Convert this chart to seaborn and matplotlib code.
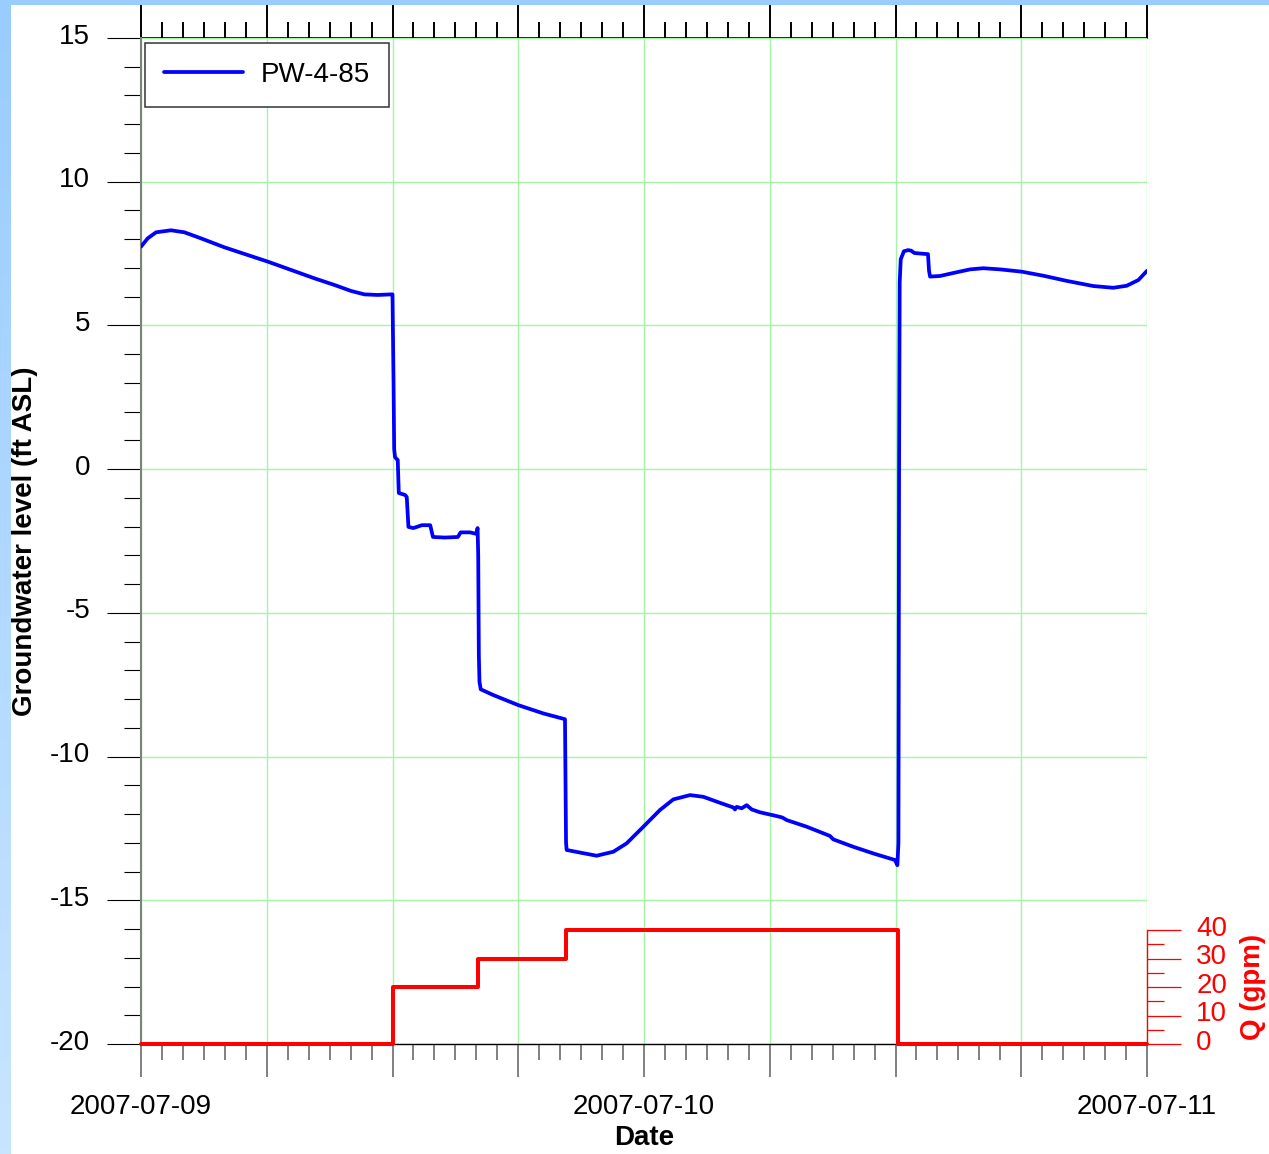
import numpy as np
import pandas as pd
import matplotlib
matplotlib.use("Agg")
import matplotlib.pyplot as plt
import matplotlib.dates as mdates
from matplotlib.ticker import MultipleLocator, FixedLocator, FuncFormatter
from matplotlib.transforms import ScaledTranslation
import seaborn as sns

# Groundwater level record, hours since 2007-07-09 00:00
start = pd.Timestamp("2007-07-09")
level_hours = [
    0.0, 0.32, 0.72, 1.43, 2.07, 2.86, 3.97, 5.09, 6.05, 7.16, 8.27, 9.22, 10.02,
    10.66, 11.29, 11.93, 12.0,
    12.05, 12.08, 12.12, 12.2, 12.25, 12.3, 12.6, 12.68, 12.76, 13.0, 13.4, 13.8,
    13.93, 14.5, 15.12, 15.25, 15.7, 16.0, 16.06, 16.09, 16.12, 16.15, 16.21,
    16.81, 18.0, 19.2, 20.23,
    20.28, 20.31, 20.95, 21.74, 22.54, 23.17, 23.97, 24.76, 25.40, 26.20, 26.83,
    27.63, 28.26, 28.34, 28.42, 28.66, 28.90, 29.14, 29.54, 30.33, 30.6, 30.81,
    31.76, 32.87, 33.03, 33.99, 34.94, 35.98, 36.09,
    36.14, 36.17, 36.2, 36.25, 36.4, 36.6, 36.75, 36.9, 37.2, 37.55, 37.6,
    37.65, 38.12, 38.92, 39.56, 40.19, 40.99, 42.02, 43.05, 44.17, 45.44, 46.39,
    47.03, 47.59, 48.0,
]
level_ft = [
    7.74, 8.03, 8.24, 8.31, 8.24, 8.03, 7.72, 7.45, 7.22, 6.93, 6.64, 6.41, 6.20,
    6.08, 6.06, 6.08, 6.08,
    3.0, 0.7, 0.42, 0.35, 0.32, -0.83, -0.90, -0.97, -2.01, -2.05, -1.95, -1.95,
    -2.36, -2.38, -2.36, -2.20, -2.20, -2.25, -2.05, -3.0, -6.5, -7.4, -7.66,
    -7.86, -8.21, -8.50, -8.70,
    -13.0, -13.25, -13.34, -13.45, -13.31, -13.02, -12.44, -11.86, -11.49, -11.34, -11.40,
    -11.61, -11.77, -11.84, -11.75, -11.80, -11.69, -11.84, -11.94, -12.07, -12.12, -12.21,
    -12.44, -12.76, -12.88, -13.14, -13.37, -13.60, -13.78,
    -13.0, 0.0, 6.5, 7.3, 7.58, 7.62, 7.60, 7.52, 7.50, 7.48, 6.9,
    6.70, 6.72, 6.85, 6.95, 6.99, 6.95, 6.87, 6.73, 6.55, 6.37, 6.31,
    6.38, 6.58, 6.90,
]

# Pumping rate schedule (step changes)
pump_hours = [0.0, 12.02, 16.07, 20.28, 36.1, 48.0]
pump_gpm = [0, 20, 30, 40, 0, 0]

level = pd.DataFrame({"time": start + pd.to_timedelta(level_hours, unit="h"),
                      "level": level_ft})
pump = pd.DataFrame({"time": start + pd.to_timedelta(pump_hours, unit="h"),
                     "q": pump_gpm})

sns.set_style("white")
plt.rcParams["font.family"] = ["Liberation Sans", "DejaVu Sans"]
plt.rcParams["axes.unicode_minus"] = False
for key in ["text.color", "axes.labelcolor", "xtick.color", "ytick.color"]:
    plt.rcParams[key] = "black"

W, H = 1269, 1154
fig = plt.figure(figsize=(W / 100, H / 100), dpi=100)

# light blue frame along the top and left edges
top_band = fig.add_axes([0, 1 - 5 / H, 1, 5 / H])
top_band.imshow([[0]], cmap=matplotlib.colors.ListedColormap(["#99ccff"]),
                aspect="auto", extent=(0, 1, 0, 1))
top_band.axis("off")
left_band = fig.add_axes([0, 0, 11 / W, 1 - 5 / H])
grad = np.linspace(0, 1, 256).reshape(-1, 1)
left_band.imshow(grad, cmap=matplotlib.colors.LinearSegmentedColormap.from_list(
    "edge", ["#99ccff", "#c8e5ff"]), aspect="auto", extent=(0, 1, 0, 1))
left_band.axis("off")

ax = fig.add_axes([141 / W, 110 / H, 1006 / W, 1006 / H])
ax.patch.set_alpha(0)

sns.lineplot(data=level, x="time", y="level", ax=ax, color="#0000ff", lw=2.7,
             label="PW-4-85", estimator=None, sort=False, zorder=3,
             solid_joinstyle="round", solid_capstyle="round")

t0 = mdates.date2num(start)
ax.set_xlim(t0, t0 + 2)
ax.set_ylim(-20, 15)

ax.xaxis.set_major_locator(mdates.HourLocator(byhour=range(0, 24, 6)))
ax.xaxis.set_minor_locator(mdates.HourLocator())


def day_label(x, pos):
    d = mdates.num2date(x)
    return d.strftime("%Y-%m-%d") if d.hour == 0 and d.minute == 0 else ""


ax.xaxis.set_major_formatter(FuncFormatter(day_label))
ax.yaxis.set_major_locator(MultipleLocator(5))
ax.yaxis.set_minor_locator(MultipleLocator(1))

ax.grid(True, which="major", color="#a6f5a6", lw=1.0)
ax.set_axisbelow(True)

for side in ["right", "top"]:
    ax.spines[side].set_visible(False)
ax.spines["left"].set_color("#808080")
ax.spines["left"].set_linewidth(1.5)
ax.spines["bottom"].set_color("black")
ax.spines["bottom"].set_linewidth(1.0)

ax.tick_params(axis="y", which="major", direction="out", length=24.5, width=0.8,
               color="black", labelsize=20, pad=12, left=True)
ax.tick_params(axis="y", which="minor", direction="out", length=12.2, width=0.8,
               color="black", left=True)
ax.tick_params(axis="x", which="major", direction="out", length=24, width=1.4,
               color="#808080", labelsize=20, pad=12, bottom=True)
ax.tick_params(axis="x", which="minor", direction="out", length=11.5, width=1.4,
               color="#808080", bottom=True)

ax.set_xlabel("Date", fontsize=20, fontweight="bold", labelpad=3.8)
ax.set_ylabel("Groundwater level (ft ASL)", fontsize=20, fontweight="bold")
ax.yaxis.set_label_coords(-0.102, 0.5)

# raise the value labels slightly above their ticks
lift = ScaledTranslation(0, 3.2 / 72, fig.dpi_scale_trans)
for tick in ax.yaxis.get_major_ticks():
    tick.label1.set_transform(tick.label1.get_transform() + lift)

# mirrored time ticks along the top edge
top = ax.secondary_xaxis("top")
top.xaxis.set_major_locator(mdates.HourLocator(byhour=range(0, 24, 6)))
top.xaxis.set_minor_locator(mdates.HourLocator())
top.xaxis.set_major_formatter(FuncFormatter(lambda x, p: ""))
top.spines["top"].set_color("black")
top.spines["top"].set_linewidth(1.2)
top.tick_params(which="major", direction="out", length=24, width=1.4, color="black")
top.tick_params(which="minor", direction="out", length=11.5, width=1.4, color="black")

leg = ax.legend(loc="upper left", bbox_to_anchor=(0.004, 0.995), borderaxespad=0,
                fontsize=20, frameon=True, fancybox=False, framealpha=1,
                edgecolor="#333333", borderpad=0.69, handlelength=2.85,
                handletextpad=0.62)
leg.get_frame().set_linewidth(1.1)

# pumping rate on a secondary scale in the lower right
ax2 = ax.twinx()
sns.lineplot(data=pump, x="time", y="q", ax=ax2, color="#ff0000", lw=2.9,
             drawstyle="steps-post", estimator=None, sort=False, legend=False,
             clip_on=False, zorder=4)
ax2.set_xlim(t0, t0 + 2)
ax2.set_ylim(0, 40 * 1006 / 114)
for side in ["left", "top", "bottom"]:
    ax2.spines[side].set_visible(False)
ax2.spines["right"].set_color("#ff0000")
ax2.spines["right"].set_bounds(0, 40)
ax2.spines["right"].set_linewidth(1.0)
ax2.yaxis.set_major_locator(FixedLocator([0, 10, 20, 30, 40]))
ax2.yaxis.set_minor_locator(FixedLocator([5, 15, 25, 35]))
ax2.tick_params(axis="y", which="major", direction="out", length=24.5, width=0.9,
                color="#ff0000", labelcolor="#ff0000", labelsize=20, pad=11,
                right=True)
ax2.tick_params(axis="y", which="minor", direction="out", length=12.2, width=0.9,
                color="#ff0000", right=True)
ax2.set_xlabel("")
ax2.set_ylabel("Q (gpm)", fontsize=20, fontweight="bold", color="#ff0000")
ax2.yaxis.set_label_coords(1.0925, 0.0567)
ax2.grid(False)
for tick in ax2.yaxis.get_major_ticks():
    tick.label2.set_transform(tick.label2.get_transform() + lift)

fig.savefig("out.png", dpi=100)
